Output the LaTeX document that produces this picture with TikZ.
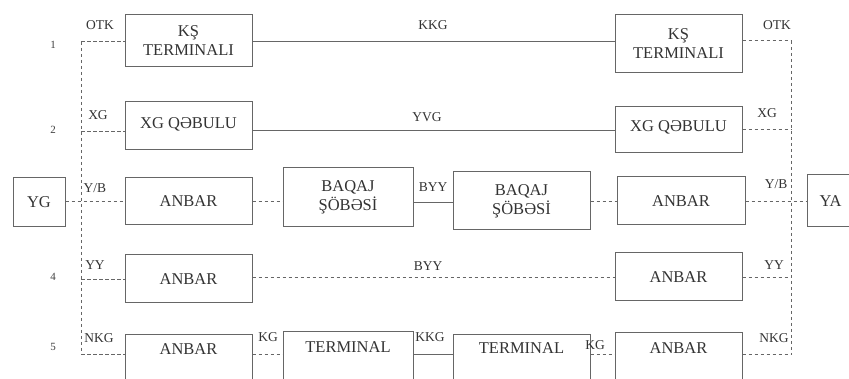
\documentclass[tikz,border=0pt]{standalone}
\usepackage{fontspec}
\setmainfont{Liberation Serif}
\begin{document}
\begin{tikzpicture}[x=1pt,y=-1pt,
  line width=1pt,
  box/.style={draw=black!60, rectangle, minimum width=127pt, inner sep=0pt, align=center,
    font=\fontsize{16.5}{19}\selectfont, text=black!80},
  boxtext/.style={inner sep=0pt, font=\fontsize{16.5}{17}\selectfont, text=black!80},
  lab/.style={inner sep=0pt, font=\fontsize{13.5}{14}\selectfont, text=black!80},
  num/.style={inner sep=0pt, font=\fontsize{11}{12}\selectfont, text=black!75},
  dsh/.style={draw=black!60, dash pattern=on 3.5pt off 2.5pt},
  sol/.style={draw=black!60}]
\clip (0,0) rectangle (849,379);
\fill[white] (0,0) rectangle (849,379);

% row 1
\node[box, minimum height=52pt] (L1) at (188.5,41) {KŞ\\TERMINALI};
\node[box, minimum height=58pt] (R1) at (678.5,44) {KŞ\\TERMINALI};
% row 2
\node[box, minimum height=48pt] (L2) at (188.5,126) {\raisebox{6pt}{XG QƏBULU}};
\node[box, minimum height=46pt] (R2) at (678.5,130) {\raisebox{7pt}{XG QƏBULU}};
% row 3
\node[box, minimum width=52pt, minimum height=49pt] (YG) at (39,202.5) {YG};
\node[box, minimum height=47pt] (L3) at (188.5,201.5) {ANBAR};
\node[box, minimum width=130pt, minimum height=59pt] (B1) at (348,197.5) {BAQAJ\\ŞÖBƏSİ};
\node[box, minimum width=137pt, minimum height=58pt] (B2) at (521.5,201) {BAQAJ\\ŞÖBƏSİ};
\node[box, minimum width=128pt, minimum height=48pt] (R3) at (681,201) {ANBAR};
\node[box, minimum width=47pt, minimum height=52pt] (YA) at (830.5,201) {YA};
% row 4
\node[box, minimum height=48pt] (L4) at (188.5,279) {ANBAR};
\node[box, minimum height=48pt] (R4) at (678.5,277) {ANBAR};
% row 5
\node[box, minimum height=70pt] (L5) at (188.5,370) {};
\node[box, minimum width=130pt, minimum height=70pt] (T1) at (348,367) {};
\node[box, minimum width=137pt, minimum height=70pt] (T2) at (521.5,370) {};
\node[box, minimum height=70pt] (R5) at (678.5,368) {};
\node[boxtext] at ([yshift=-15pt]L5.north) {ANBAR};
\node[boxtext] at ([yshift=-16pt]T1.north) {TERMINAL};
\node[boxtext] at ([yshift=-14pt]T2.north) {TERMINAL};
\node[boxtext] at ([yshift=-16pt]R5.north) {ANBAR};

% vertical buses
\coordinate (VL1) at (81,42);
\coordinate (VL2) at (81,132);
\coordinate (VL4) at (81,280);
\coordinate (VL5) at (81,355);
\coordinate (VR1) at (791,41);
\coordinate (VR2) at (791,130);
\coordinate (VR4) at (791,278);
\coordinate (VR5) at (791,355);
\draw[dsh] (VL1) -- (VL5);
\draw[dsh] (VR1) -- (VR5);

% row 1 connectors
\draw[dsh] (VL1) -- (VL1 -| L1.west);
\draw[sol] (L1.east |- VL1) -- (R1.west |- VL1);
\draw[dsh] (R1.east |- VR1) -- (VR1);
% row 2
\draw[dsh] (VL2) -- (VL2 -| L2.west);
\draw[sol] (L2.east |- 0,131) -- (R2.west |- 0,131);
\draw[dsh] (R2.east |- VR2) -- (VR2);
% row 3
\draw[dsh] (YG.east |- 0,202) -- (L3.west |- 0,202);
\draw[dsh] (L3.east |- 0,202) -- (B1.west |- 0,202);
\draw[sol] (B1.east |- 0,203) -- (B2.west |- 0,203);
\draw[dsh] (B2.east |- 0,202) -- (R3.west |- 0,202);
\draw[dsh] (R3.east |- 0,202) -- (YA.west |- 0,202);
% row 4
\draw[dsh] (VL4) -- (VL4 -| L4.west);
\draw[dsh] (L4.east |- 0,278) -- (R4.west |- 0,278);
\draw[dsh] (R4.east |- VR4) -- (VR4);
% row 5
\draw[dsh] (VL5) -- (VL5 -| L5.west);
\draw[dsh] (L5.east |- VL5) -- (T1.west |- VL5);
\draw[sol] (T1.east |- VL5) -- (T2.west |- VL5);
\draw[dsh] (T2.east |- VL5) -- (R5.west |- VL5);
\draw[dsh] (R5.east |- VR5) -- (VR5);

% numbers
\node[num] at (53,45) {1};
\node[num] at (53,130) {2};
\node[num] at (53,277) {4};
\node[num] at (53,347) {5};

% labels
\node[lab] at (100,25) {OTK};
\node[lab] at (433,25) {KKG};
\node[lab] at (777,25) {OTK};
\node[lab] at (98,115) {XG};
\node[lab] at (427,117) {YVG};
\node[lab] at (767,113) {XG};
\node[lab] at (95,188) {Y/B};
\node[lab] at (433,187) {BYY};
\node[lab] at (776,184) {Y/B};
\node[lab] at (95,265) {YY};
\node[lab] at (428,266) {BYY};
\node[lab] at (774,265) {YY};
\node[lab] at (99,338) {NKG};
\node[lab] at (268,337) {KG};
\node[lab] at (430,337) {KKG};
\node[lab] at (595,345) {KG};
\node[lab] at (774,338) {NKG};
\end{tikzpicture}
\end{document}
